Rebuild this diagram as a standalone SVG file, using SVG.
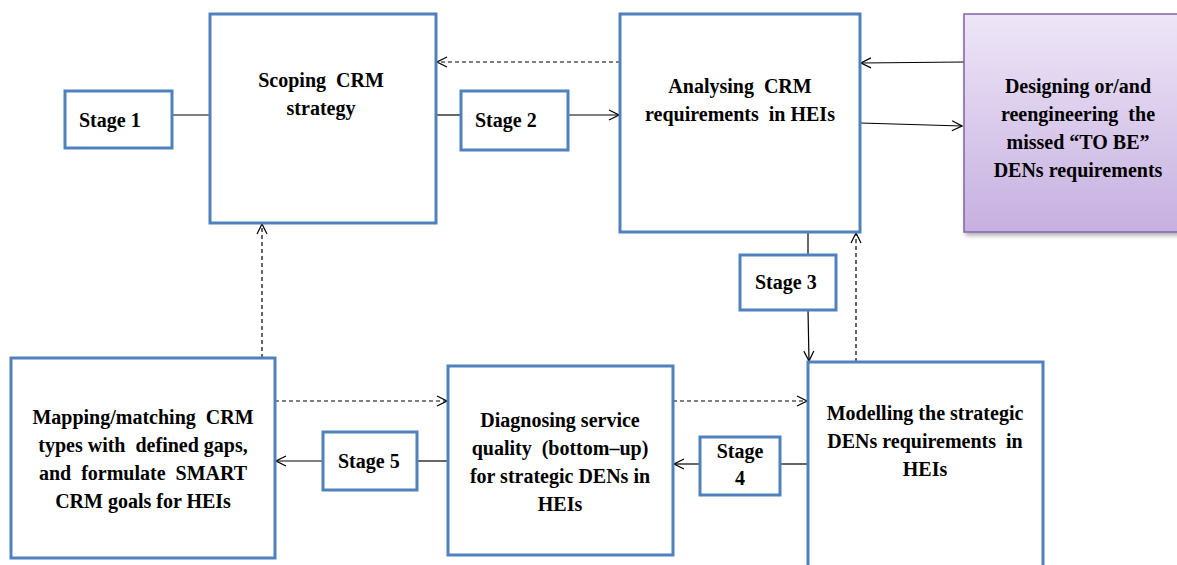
<svg xmlns="http://www.w3.org/2000/svg" width="1177" height="565" viewBox="0 0 1177 565">
<style>
.box{fill:#fff;stroke:#4f81bd;stroke-width:3}
.t{font-family:'Liberation Serif','Times New Roman',serif;font-weight:bold;font-size:20px;fill:#000;white-space:pre}
.c{text-anchor:middle}
.ln{stroke:#000;stroke-width:1.2;fill:none}
.d{stroke-dasharray:4,3}
</style>
<defs>
<marker id="ah" viewBox="0 0 12 12" refX="11" refY="6" markerWidth="12" markerHeight="12" markerUnits="userSpaceOnUse" orient="auto">
<path d="M1,1 L11,6 L1,11" fill="none" stroke="#000" stroke-width="1.2"/>
</marker>
<linearGradient id="pg" x1="0" y1="0" x2="0" y2="1">
<stop offset="0" stop-color="#eee6f7"/>
<stop offset="1" stop-color="#c6b0e0"/>
</linearGradient>
<filter id="sh" x="-10%" y="-10%" width="130%" height="130%">
<feDropShadow dx="2" dy="3" stdDeviation="2" flood-color="#000" flood-opacity="0.3"/>
</filter>
</defs>
<rect width="1177" height="565" fill="#fff"/>
<g id="connectors">
<line class="ln" x1="172" y1="115" x2="210" y2="115"/>
<line class="ln" x1="436" y1="115" x2="461" y2="115"/>
<line class="ln" x1="568" y1="115" x2="619" y2="115" marker-end="url(#ah)"/>
<line class="ln d" x1="620" y1="62" x2="437" y2="62" marker-end="url(#ah)"/>
<line class="ln" x1="964" y1="62" x2="861" y2="63" marker-end="url(#ah)"/>
<line class="ln" x1="860" y1="123" x2="962" y2="126" marker-end="url(#ah)"/>
<line class="ln" x1="808" y1="232" x2="808" y2="255"/>
<line class="ln" x1="808" y1="310" x2="809" y2="361" marker-end="url(#ah)"/>
<line class="ln d" x1="856" y1="362" x2="856" y2="233" marker-end="url(#ah)"/>
<line class="ln d" x1="673" y1="401" x2="807" y2="401" marker-end="url(#ah)"/>
<line class="ln" x1="808" y1="464" x2="780" y2="464"/>
<line class="ln" x1="700" y1="464" x2="674" y2="464" marker-end="url(#ah)"/>
<line class="ln" x1="448" y1="461" x2="417" y2="461"/>
<line class="ln" x1="323" y1="461" x2="276" y2="461" marker-end="url(#ah)"/>
<line class="ln d" x1="275" y1="401" x2="447" y2="401" marker-end="url(#ah)"/>
<line class="ln d" x1="262" y1="358" x2="262" y2="224" marker-end="url(#ah)"/>
</g>
<g id="stage1"><rect class="box" x="65" y="91" width="107" height="57"/><text class="t" x="79" y="127">Stage 1</text></g>
<g id="scoping"><rect class="box" x="210" y="14" width="226" height="209"/><text class="t c" x="321" y="87">Scoping  CRM</text><text class="t c" x="321" y="115">strategy</text></g>
<g id="stage2"><rect class="box" x="461" y="91" width="107" height="59"/><text class="t" x="475" y="127">Stage 2</text></g>
<g id="analysing"><rect class="box" x="620" y="14" width="240" height="218"/><text class="t c" x="740" y="93">Analysing  CRM</text><text class="t c" x="740" y="121">requirements  in HEIs</text></g>
<g id="designing"><rect x="964" y="14" width="216" height="218" fill="url(#pg)" stroke="#8064a2" stroke-width="1.5" filter="url(#sh)"/>
<text class="t c" x="1078" y="93">Designing or/and</text><text class="t c" x="1078" y="121">reengineering  the</text><text class="t c" x="1078" y="149">missed “TO BE”</text><text class="t c" x="1078" y="177">DENs requirements</text></g>
<g id="stage3"><rect class="box" x="740" y="255" width="96" height="55"/><text class="t" x="755" y="289">Stage 3</text></g>
<g id="modelling"><rect class="box" x="808" y="362" width="235" height="210"/><text class="t c" x="925" y="420">Modelling the strategic</text><text class="t c" x="925" y="448">DENs requirements  in</text><text class="t c" x="925" y="476">HEIs</text></g>
<g id="stage4"><rect class="box" x="700" y="437" width="80" height="58"/><text class="t c" x="740" y="458">Stage</text><text class="t c" x="740" y="485">4</text></g>
<g id="diagnosing"><rect class="box" x="448" y="366" width="225" height="189"/><text class="t c" x="560" y="427">Diagnosing service</text><text class="t c" x="560" y="455">quality  (bottom–up)</text><text class="t c" x="560" y="483">for strategic DENs in</text><text class="t c" x="560" y="511">HEIs</text></g>
<g id="stage5"><rect class="box" x="323" y="432" width="94" height="58"/><text class="t" x="338" y="468">Stage 5</text></g>
<g id="mapping"><rect class="box" x="11" y="358" width="264" height="200"/><text class="t c" x="143" y="424">Mapping/matching  CRM</text><text class="t c" x="143" y="452">types with  defined gaps,</text><text class="t c" x="143" y="480">and  formulate  SMART</text><text class="t c" x="143" y="508">CRM goals for HEIs</text></g>
</svg>
